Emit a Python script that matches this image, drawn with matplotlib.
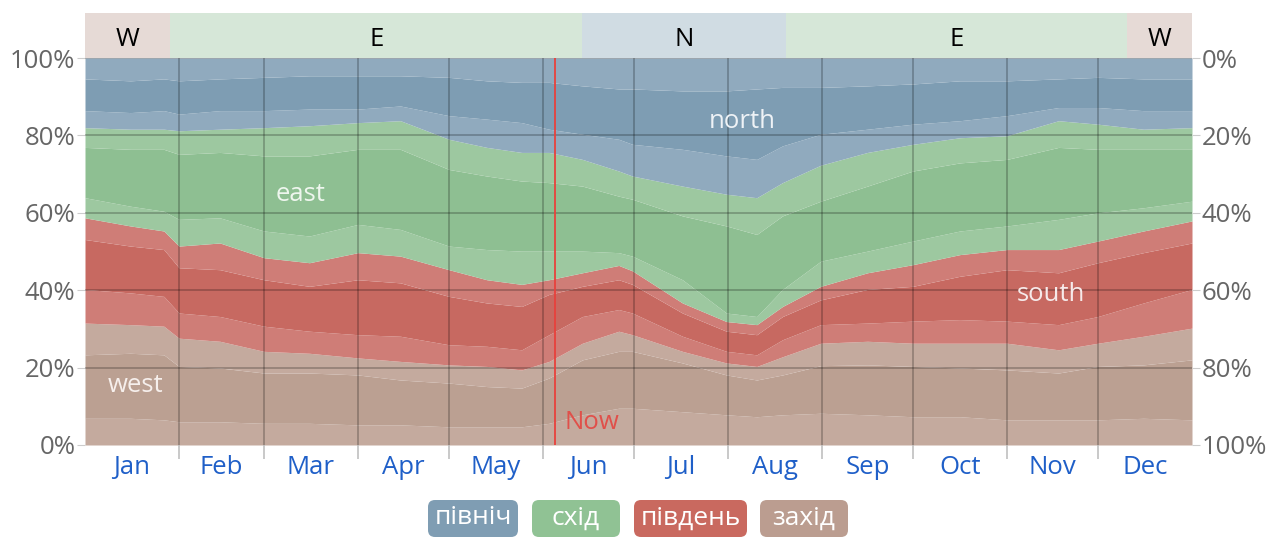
import matplotlib
matplotlib.use('Agg')
import matplotlib.pyplot as plt
from matplotlib.patches import FancyBboxPatch

plt.rcParams['font.family'] = ['Open Sans', 'DejaVu Sans']

# day of year for each sample
days = [0, 15, 26, 31, 44.5, 59, 74, 90, 104, 120, 132.5, 144, 153, 164, 176, 180.5,
        197, 211.5, 221.5, 230, 242.6, 258, 273, 288.5, 304, 321, 334, 349, 365]

# upper edge (cumulative %) of each band, bottom to top
west_lo = [6.9, 6.9, 6.5, 6.0, 6.0, 5.6, 5.6, 5.2, 5.2, 4.7, 4.7, 4.7, 5.6, 7.8, 9.5, 9.5,
           8.6, 7.8, 7.3, 7.8, 8.2, 7.8, 7.3, 7.3, 6.5, 6.5, 6.5, 6.9, 6.5]
west_mid = [23.3, 23.7, 23.3, 20.3, 19.9, 18.6, 18.6, 18.1, 16.8, 16.0, 15.1, 14.7, 17.3, 22.0, 24.2, 24.2,
            21.2, 18.1, 16.8, 18.1, 20.5, 20.7, 20.3, 19.9, 19.4, 18.6, 20.3, 20.7, 22.0]
west_hi = [31.5, 31.1, 30.7, 27.6, 26.8, 24.2, 23.7, 22.5, 21.6, 20.7, 20.3, 19.4, 21.6, 26.3, 29.4, 28.5,
           24.2, 21.2, 20.3, 22.8, 26.3, 26.8, 26.3, 26.3, 26.3, 24.6, 26.3, 28.1, 30.2]
south_lo = [40.2, 39.3, 38.4, 34.1, 33.2, 30.7, 29.4, 28.5, 28.1, 25.9, 25.5, 24.6, 28.5, 33.2, 35.0, 34.1,
            28.1, 24.2, 23.3, 27.2, 31.1, 31.5, 32.0, 32.4, 32.0, 31.1, 33.2, 36.7, 40.2]
south_mid = [53.1, 51.4, 50.5, 45.8, 45.3, 42.7, 41.0, 42.7, 41.9, 38.4, 36.7, 35.8, 38.9, 41.0, 42.7, 41.5,
             34.1, 29.4, 28.5, 33.2, 37.5, 40.2, 41.0, 43.6, 45.3, 44.5, 47.1, 49.7, 52.2]
south_hi = [58.7, 56.6, 55.3, 51.4, 52.2, 48.4, 47.1, 49.7, 48.8, 45.3, 42.7, 41.5, 42.7, 44.5, 46.4, 45.0,
            36.7, 31.9, 31.1, 35.8, 41.0, 44.5, 46.6, 49.2, 50.5, 50.5, 52.7, 55.3, 57.9]
east_lo = [63.9, 61.7, 60.4, 58.3, 58.7, 55.3, 54.0, 57.0, 55.7, 51.4, 50.5, 50.1, 50.1, 50.1, 49.7, 48.8,
           42.7, 34.1, 33.2, 40.2, 47.5, 50.1, 52.7, 55.3, 56.6, 58.3, 60.0, 61.3, 63.0]
east_mid = [76.9, 76.4, 76.4, 75.1, 75.6, 74.7, 74.7, 76.4, 76.4, 71.2, 69.5, 68.2, 67.8, 66.9, 64.3, 63.5,
            59.2, 56.6, 54.4, 59.2, 63.0, 66.9, 70.8, 72.9, 73.8, 76.9, 76.4, 76.4, 76.4]
east_hi = [82.0, 81.6, 81.6, 81.2, 81.6, 82.0, 82.5, 83.3, 83.8, 79.0, 76.9, 75.6, 75.6, 73.8, 70.8, 69.5,
           66.9, 64.8, 63.9, 67.8, 72.3, 75.6, 77.7, 79.4, 79.9, 83.8, 82.9, 81.6, 82.0]
north_lo = [86.4, 85.9, 86.4, 85.5, 86.4, 86.4, 86.8, 86.8, 87.6, 85.1, 84.2, 83.3, 81.6, 80.3, 79.0, 77.7,
            76.4, 74.7, 73.8, 77.3, 80.3, 81.6, 82.9, 83.8, 85.1, 87.2, 87.2, 86.4, 86.4]
north_mid = [94.6, 94.1, 94.6, 94.1, 94.6, 95.0, 95.4, 95.4, 95.4, 95.0, 94.1, 93.7, 93.7, 92.8, 92.0, 92.0,
             91.5, 91.5, 92.0, 92.4, 92.4, 92.8, 93.3, 94.1, 94.1, 94.6, 95.0, 94.6, 94.6]
north_hi = [100] * len(days)

months = ['Jan', 'Feb', 'Mar', 'Apr', 'May', 'Jun', 'Jul', 'Aug', 'Sep', 'Oct', 'Nov', 'Dec']
month_edges = [0, 31, 59, 90, 120, 151, 181, 212, 243, 273, 304, 334, 365]

# dominant direction strip on top
seg_labels = ['W', 'E', 'N', 'E', 'W']
seg_start = [0, 28, 164, 231, 343.5]
seg_end = [28, 164, 231, 343.5, 365]
seg_colors = ['#e6dad6', '#d6e7d8', '#d0dce3', '#d6e7d8', '#e6dad6']

now_day = 155

legend_names = ['північ', 'схід', 'південь', 'захід']
legend_colors = ['#7f9db3', '#90c294', '#c9695f', '#bb9d90']

# colours: light / dark per direction
c_w = ('#c4aa9e', '#bba092')
c_s = ('#cf7d77', '#c76961')
c_e = ('#9dc8a0', '#8ebf92')
c_n = ('#90aabe', '#7e9db3')

edges = [[0] * len(days), west_lo, west_mid, west_hi, south_lo, south_mid, south_hi,
         east_lo, east_mid, east_hi, north_lo, north_mid, north_hi]
band_colors = [c_w[0], c_w[1], c_w[0], c_s[0], c_s[1], c_s[0],
               c_e[0], c_e[1], c_e[0], c_n[0], c_n[1], c_n[0]]

FS = 18.5
W, H = 1287, 539
fig = plt.figure(figsize=(W / 100, H / 100), dpi=100)
L, R, B, T = 85, 1192, 445, 58
ax = fig.add_axes([L / W, 1 - B / H, (R - L) / W, (B - T) / H])

for i in range(12):
    ax.fill_between(days, edges[i], edges[i + 1], color=band_colors[i], lw=0)

ax.set_xlim(0, 365)
ax.set_ylim(0, 100)

# grid
for y in [20, 40, 60, 80, 100]:
    ax.axhline(y, color='black', alpha=0.28, lw=1.1)
for d in month_edges[1:-1]:
    ax.axvline(d, color='black', alpha=0.28, lw=1.1)

for s in ax.spines.values():
    s.set_visible(False)

ax.set_xticks([(month_edges[i] + month_edges[i + 1]) / 2 for i in range(12)])
ax.set_xticklabels(months, color='#1f5fc8', fontsize=FS)
ax.set_xticks(month_edges[1:-1], minor=True)
ax.tick_params(axis='x', which='major', length=0, pad=7)
ax.tick_params(axis='x', which='minor', length=10, color='#bbbbbb', width=1.1)

ax.set_yticks([0, 20, 40, 60, 80, 100])
ax.set_yticklabels(['0%', '20%', '40%', '60%', '80%', '100%'], color='#666666', fontsize=FS)
ax.tick_params(axis='y', length=6, color='#cccccc', pad=1)

ax2 = ax.twinx()
ax2.set_ylim(100, 0)
ax2.set_yticks([0, 20, 40, 60, 80, 100])
ax2.set_yticklabels(['0%', '20%', '40%', '60%', '80%', '100%'], color='#666666', fontsize=FS)
ax2.tick_params(axis='y', length=6, color='#cccccc', pad=1)
for s in ax2.spines.values():
    s.set_visible(False)

# now line
ax.axvline(now_day, color='#e8413c', lw=1.3)
ax.text(now_day + 3, 5.9, 'Now', color='#e0504a', fontsize=FS, ha='left', va='center')

# direction labels
ax.text(216.6, 83.7, 'north', color='#eef2f6', fontsize=FS, ha='center', va='center')
ax.text(71.2, 64.6, 'east', color='#eef6ee', fontsize=FS, ha='center', va='center')
ax.text(318.5, 38.8, 'south', color='#f6eaea', fontsize=FS, ha='center', va='center')
ax.text(16.5, 15.5, 'west', color='#f6efec', fontsize=FS, ha='center', va='center')

# top strip
axt = fig.add_axes([L / W, 1 - T / H, (R - L) / W, 45 / H])
axt.set_xlim(0, 365)
axt.set_ylim(0, 1)
for lab, s0, s1, c in zip(seg_labels, seg_start, seg_end, seg_colors):
    axt.axvspan(s0, s1, color=c, lw=0)
    axt.text((s0 + s1) / 2, 0.42, lab, fontsize=FS, ha='center', va='center', color='black')
axt.axis('off')

# legend chips, drawn on an overlay in pixel units
axl = fig.add_axes([0, 0, 1, 1])
axl.set_xlim(0, W)
axl.set_ylim(H, 0)
axl.axis('off')
chip_left = [428, 532, 634, 760]
chip_right = [518, 620, 747, 848]
for name, c, x0, x1 in zip(legend_names, legend_colors, chip_left, chip_right):
    axl.add_patch(FancyBboxPatch((x0, 500), x1 - x0, 37,
                                 boxstyle='round,pad=0,rounding_size=7', fc=c, ec='none'))
    axl.text((x0 + x1) / 2, 518, name, color='white', fontsize=19, ha='center', va='center')

plt.savefig('out.png', dpi=100)
plt.close()
